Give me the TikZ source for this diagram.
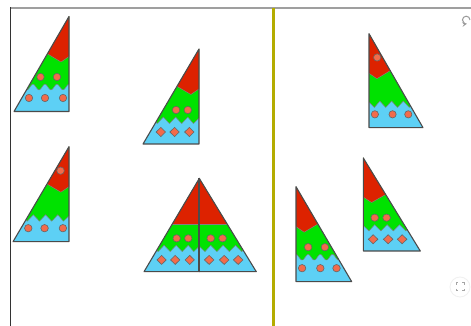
\documentclass[tikz,border=0pt]{standalone}
\definecolor{tred}{RGB}{221,34,0}
\definecolor{tgreen}{RGB}{0,226,0}
\definecolor{tblue}{RGB}{93,208,245}
\definecolor{tdot}{RGB}{242,107,75}
\definecolor{tline}{RGB}{75,75,75}
\definecolor{divline}{RGB}{180,172,0}
\tikzset{
  outl/.style={draw=tline,line width=1.1pt,line join=round},
  sep/.style={draw=tline!70,line width=0.5pt,line join=round},
  dotst/.style={fill=tdot,draw=tline!85,line width=0.6pt},
}
\newcommand\zigpath{(0,26)--(5.5,20.5)--(11,27)--(17,20.5)--(23,27)--(29,20.5)--(35,27)--(41,20.5)--(47,27)--(60,27)}
\newcommand\wavepath{plot[domain=0:60,samples=90,smooth] (\x,{24.5+2.8*cos(30*\x)})}
\newcommand\redV{(0,55)--(8,49.5)--(40,68.7)}
\newcommand\redH{(0,48)--(60,48)}
\newcommand\basefill[2]{%
  \begin{scope}
    \clip (0,0)--(55,0)--(0,95)--cycle;
    \fill[tblue] (0,0) rectangle (60,100);
    \fill[tgreen] #1 -- (60,24) -- (60,100) -- (0,100) -- cycle;
    \draw[sep] #1;
    \fill[tred] #2 -- (60,100) -- (0,100) -- cycle;
    \draw[sep] #2;
  \end{scope}}
\newcommand\gdotsW{\foreach \u in {12,28.5}{\draw[dotst] (\u,34.5) circle (3.7);}}
\newcommand\gdotsD{\foreach \u in {11,22.5}{\draw[dotst] (\u,34) circle (3.7);}}
\newcommand\bdots{\foreach \u in {6,24,40}{\draw[dotst] (\u,13.5) circle (3.7);}}
\newcommand\bdiam{\foreach \u in {9.5,24,37.5}{\draw[dotst] (\u,16.6)--(\u+4.6,12)--(\u,7.4)--(\u-4.6,12)--cycle;}}
\newcommand\rdot{\draw[dotst] (8.3,71) circle (3.7);}
\newcommand\outline{\draw[outl] (0,0)--(55,0)--(0,95)--cycle;}
\begin{document}
\begin{tikzpicture}[x=1pt,y=1pt]
\useasboundingbox (0,0) rectangle (471,326);
\fill[white] (0,0) rectangle (471,326);
% frame
\draw[gray!75,line width=1.6pt] (10,318) -- (471,318);
\draw[black!80,line width=1.3pt] (10.3,318.8) -- (10.3,0);
\draw[divline,line width=3pt] (273.5,318) -- (273.5,0);
% T1
\begin{scope}[shift={(69,214.5)},xscale=-1]
  \basefill{\wavepath}{\redV}\gdotsW\bdots\outline
\end{scope}
% T2
\begin{scope}[shift={(199,182)},xscale=-1.018]
  \basefill{\zigpath}{\redV}\gdotsD\bdiam\outline
\end{scope}
% T3
\begin{scope}[shift={(69,84.3)},xscale=-1.018]
  \basefill{\zigpath}{\redV}\rdot\bdots\outline
\end{scope}
% T4 left and right halves
\begin{scope}[shift={(199.3,54.3)},xscale=-1.005,yscale=0.982]
  \basefill{\zigpath}{\redH}\gdotsD\bdiam\outline
\end{scope}
\begin{scope}[shift={(199.3,54.3)},xscale=1.036,yscale=0.982]
  \basefill{\zigpath}{\redH}\gdotsD\bdiam\outline
\end{scope}
\coordinate (ctop) at (199.3,147.6);
\coordinate (cbot) at (199.3,54.3);
\draw[tline,line width=2pt] (ctop) -- (cbot);
% T5
\begin{scope}[shift={(296,44.3)},xscale=1.013]
  \basefill{\wavepath}{\redV}\gdotsW\bdots\outline
\end{scope}
% T6
\begin{scope}[shift={(363.3,75)},xscale=1.036,yscale=0.979]
  \basefill{\zigpath}{\redV}\gdotsD\bdiam\outline
\end{scope}
% T7
\begin{scope}[shift={(369,198.3)},xscale=0.982,yscale=0.989]
  \basefill{\zigpath}{\redV}\rdot\bdots\outline
\end{scope}
% refresh icon
\draw[gray!80,line width=1pt,-stealth] (470,306) arc (0:280:3.8);
% fullscreen icon
\draw[gray!12,line width=0.8pt,fill=white] (460,39) circle (10);
\begin{scope}[gray!70,line width=1pt]
  \draw (456,41)--(456,43)--(458,43);
  \draw (462,43)--(464,43)--(464,41);
  \draw (456,37)--(456,35)--(458,35);
  \draw (462,35)--(464,35)--(464,37);
\end{scope}
\end{tikzpicture}
\end{document}
